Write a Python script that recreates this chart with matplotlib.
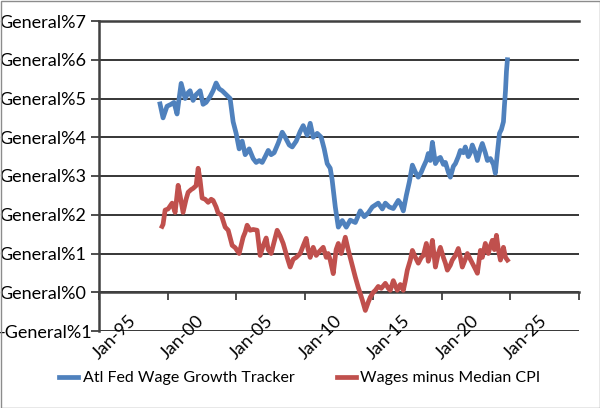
import matplotlib
matplotlib.use("Agg")
import matplotlib.pyplot as plt
from matplotlib.patches import Rectangle
from matplotlib.transforms import ScaledTranslation

# Atl Fed Wage Growth Tracker (decimal year, %)
wage_years = [1996.95, 1997.17, 1997.46, 1997.75, 1997.97, 1998.19, 1998.49, 1998.78, 1999.0, 1999.14,
              1999.36, 1999.58, 1999.87, 2000.09, 2000.31, 2000.6, 2000.82, 2001.04, 2001.26, 2001.48,
              2001.77, 2002.06, 2002.28, 2002.5, 2002.72, 2002.94, 2003.16, 2003.45, 2003.74, 2003.96,
              2004.18, 2004.4, 2004.62, 2004.84, 2005.05, 2005.27, 2005.57, 2005.86, 2006.08, 2006.37,
              2006.59, 2006.88, 2007.17, 2007.39, 2007.68, 2007.9, 2008.12, 2008.41, 2008.7, 2008.92,
              2009.14, 2009.36, 2009.5, 2009.73, 2009.95, 2010.24, 2010.53, 2010.82, 2011.19, 2011.55,
              2011.84, 2012.14, 2012.43, 2012.86, 2013.16, 2013.38, 2013.67, 2013.96, 2014.32, 2014.47,
              2014.69, 2014.91, 2015.13, 2015.35, 2015.57, 2015.78, 2016.0, 2016.15, 2016.37, 2016.51,
              2016.66, 2016.81, 2017.03, 2017.24, 2017.39, 2017.61, 2017.76, 2017.97, 2018.12, 2018.34,
              2018.49, 2018.7, 2018.85, 2019.07, 2019.21, 2019.43, 2019.58, 2019.72, 2019.94, 2020.09,
              2020.31, 2020.45, 2020.67, 2020.82, 2021.04, 2021.26, 2021.4, 2021.55, 2021.7, 2021.84,
              2021.99, 2022.06, 2022.14, 2022.21, 2022.28]
wage_vals = [4.86, 4.5, 4.8, 4.85, 4.9, 4.6, 5.39, 5.0, 5.15, 5.2,
             4.95, 5.1, 5.2, 4.85, 4.9, 5.05, 5.2, 5.4, 5.25, 5.2,
             5.1, 5.0, 4.4, 4.1, 3.7, 3.9, 3.55, 3.7, 3.45, 3.35,
             3.4, 3.35, 3.5, 3.66, 3.55, 3.6, 3.85, 4.13, 4.0, 3.8,
             3.75, 3.9, 4.15, 4.3, 4.05, 4.36, 4.0, 4.1, 4.0, 3.7,
             3.32, 3.2, 2.9, 2.2, 1.68, 1.85, 1.68, 1.86, 1.8, 2.1,
             1.95, 2.05, 2.2, 2.3, 2.15, 2.3, 2.2, 2.16, 2.37, 2.3,
             2.1, 2.5, 2.85, 3.28, 3.1, 2.97, 3.1, 3.23, 3.4, 3.58,
             3.4, 3.87, 3.32, 3.45, 3.48, 3.3, 3.35, 3.1, 2.97, 3.25,
             3.32, 3.5, 3.66, 3.6, 3.75, 3.5, 3.6, 3.8, 3.6, 3.4,
             3.7, 3.84, 3.6, 3.4, 3.45, 3.3, 3.07, 3.6, 4.1, 4.2,
             4.4, 4.8, 5.2, 5.7, 6.0]

# Wages minus Median CPI (decimal year, %)
real_years = [1997.1, 1997.17, 1997.32, 1997.54, 1997.83, 1998.05, 1998.27, 1998.41, 1998.63, 1998.85,
              1999.0, 1999.22, 1999.36, 1999.58, 1999.73, 1999.87, 2000.02, 2000.24, 2000.46, 2000.68,
              2000.82, 2001.04, 2001.19, 2001.41, 2001.7, 2001.92, 2002.21, 2002.43, 2002.72, 2002.86,
              2003.01, 2003.16, 2003.3, 2003.52, 2003.74, 2004.03, 2004.25, 2004.47, 2004.69, 2004.84,
              2005.05, 2005.27, 2005.49, 2005.71, 2005.93, 2006.22, 2006.44, 2006.66, 2006.88, 2007.17,
              2007.39, 2007.61, 2007.75, 2007.9, 2008.12, 2008.34, 2008.56, 2008.85, 2009.07, 2009.21,
              2009.36, 2009.58, 2009.79, 2009.95, 2010.16, 2010.46, 2010.67, 2010.89, 2011.19, 2011.4,
              2011.7, 2011.92, 2012.14, 2012.28, 2012.5, 2012.65, 2012.86, 2013.08, 2013.38, 2013.6,
              2013.74, 2013.96, 2014.25, 2014.47, 2014.69, 2014.84, 2014.98, 2015.2, 2015.35, 2015.57,
              2015.78, 2016.0, 2016.15, 2016.37, 2016.51, 2016.66, 2016.81, 2017.03, 2017.24, 2017.39,
              2017.61, 2017.76, 2017.9, 2018.12, 2018.26, 2018.49, 2018.7, 2018.85, 2018.99, 2019.21,
              2019.36, 2019.58, 2019.72, 2019.94, 2020.09, 2020.31, 2020.45, 2020.67, 2020.89, 2021.04,
              2021.18, 2021.33, 2021.48, 2021.62, 2021.77, 2021.99, 2022.14, 2022.28]
real_vals = [1.7, 1.75, 2.12, 2.15, 2.3, 2.06, 2.76, 2.5, 2.06, 2.4,
             2.58, 2.65, 2.68, 2.75, 3.2, 2.9, 2.43, 2.4, 2.32, 2.4,
             2.37, 2.2, 2.04, 2.0, 1.68, 1.6, 1.21, 1.15, 1.0, 1.2,
             1.42, 1.55, 1.73, 1.6, 1.62, 1.6, 0.95, 1.2, 1.4, 1.1,
             1.0, 1.3, 1.6, 1.45, 1.26, 0.9, 0.65, 0.85, 0.9, 1.0,
             1.2, 1.39, 1.1, 0.9, 1.16, 0.95, 1.05, 1.16, 0.9, 1.0,
             0.83, 0.48, 1.1, 1.26, 1.0, 1.42, 1.1, 0.8, 0.39, 0.13,
             -0.2, -0.47, -0.25, -0.13, 0.0, 0.05, 0.15, 0.1, 0.23, 0.1,
             0.05, 0.3, 0.05, 0.2, 0.05, 0.3, 0.57, 0.83, 1.08, 0.9,
             0.75, 0.9, 0.95, 1.26, 0.8, 1.0, 1.34, 0.65, 1.0, 1.16,
             0.9, 0.75, 0.57, 0.7, 0.83, 0.95, 1.13, 0.9, 0.65, 0.85,
             1.0, 0.85, 0.75, 0.6, 0.49, 1.08, 0.9, 1.26, 1.0, 1.2,
             1.34, 1.1, 1.47, 1.1, 0.83, 1.16, 0.9, 0.83]

label_years = [1995, 2000, 2005, 2010, 2015, 2020, 2025]
tick_labels = ["Jan-95", "Jan-00", "Jan-05", "Jan-10", "Jan-15", "Jan-20", "Jan-25"]
y_levels = [-1, 0, 1, 2, 3, 4, 5, 6, 7]

plt.rcParams["font.family"] = ["Lato", "DejaVu Sans"]
FS = 13
AXIS_GREY = "#404040"

fig = plt.figure(figsize=(6.0, 4.08), dpi=100)
ax = fig.add_axes([99 / 600, 1 - 331 / 408, 480 / 600, 310 / 408])

ax.plot(wage_years, wage_vals, color="#4F81BD", lw=3.4, label="Atl Fed Wage Growth Tracker",
        solid_joinstyle="round", zorder=3)
ax.plot(real_years, real_vals, color="#C0504D", lw=3.4, label="Wages minus Median CPI",
        solid_joinstyle="round", zorder=3)

xmin, xmax = label_years[0] - 2.5, label_years[-1] + 2.5
ax.set_xlim(xmin, xmax)
ax.set_ylim(-1, 7)
ax.set_yticks(y_levels)
ax.set_yticklabels([("-General%" if v < 0 else "General%") + str(abs(v)) for v in y_levels], fontsize=FS)
ax.tick_params(axis="y", direction="out", length=6, width=1.3, color=AXIS_GREY, pad=3)
# the lowest label is pushed right so it stays inside the chart, as Excel does
low = ax.get_yticklabels()[0]
low.set_transform(low.get_transform() + ScaledTranslation(6 / 100, 0, fig.dpi_scale_trans))

ax.set_axisbelow(True)
ax.yaxis.grid(True, color="black", lw=1.1)

# horizontal axis crosses at zero, tick marks between the labelled dates
ax.spines["bottom"].set_position(("data", 0))
ax.spines["bottom"].set_color(AXIS_GREY)
ax.spines["bottom"].set_linewidth(1.8)
ax.set_xticks([xmin + 5 * i for i in range(len(label_years) + 1)])
ax.set_xticklabels([])
ax.tick_params(axis="x", direction="out", length=6, width=1.3, color=AXIS_GREY)
ax.spines["right"].set_visible(False)
ax.spines["top"].set_color(AXIS_GREY)
ax.spines["top"].set_linewidth(1.8)
ax.spines["left"].set_color(AXIS_GREY)
ax.spines["left"].set_linewidth(1.8)

# date labels sit low, at the bottom of the plot
axl = ax.twiny()
axl.set_xlim(xmin, xmax)
axl.xaxis.set_ticks_position("bottom")
axl.set_xticks(label_years)
axl.set_xticklabels(tick_labels, fontsize=FS, rotation=45, ha="right", va="center",
                    rotation_mode="anchor")
axl.tick_params(axis="x", length=0, pad=-9)
for s in axl.spines.values():
    s.set_visible(False)

fig.legend(loc="center", bbox_to_anchor=(0.5, 1 - 378 / 408), ncol=2, frameon=False,
           fontsize=11.5, handlelength=1.2, handletextpad=0.3, columnspacing=2.6)

fig.patches.append(Rectangle((0.5 / 600, 0.5 / 408), 599 / 600, 407 / 408, transform=fig.transFigure,
                             fill=False, edgecolor="#8c8c8c", lw=1.0))

fig.savefig("out.png", dpi=100)
